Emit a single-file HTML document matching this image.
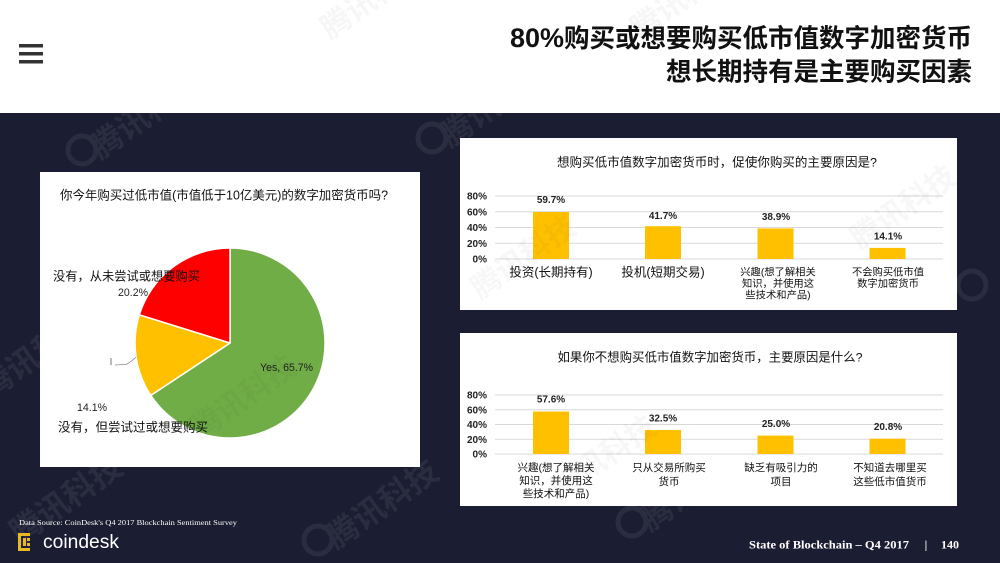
<!DOCTYPE html>
<html>
<head>
<meta charset="utf-8">
<style>
  html,body{margin:0;padding:0;background:#1b1d32;}
  body{width:1000px;height:563px;overflow:hidden;position:relative;}
  svg{display:block;}
  text{font-family:"Liberation Sans","Noto Sans CJK SC",sans-serif;}
</style>
</head>
<body>
<svg width="1000" height="563" viewBox="0 0 1000 563" xmlns="http://www.w3.org/2000/svg">
  <!-- backgrounds -->
  <rect x="0" y="0" width="1000" height="563" fill="#1b1d32"/>
  <rect x="0" y="0" width="1000" height="113" fill="#ffffff"/>

  <!-- header watermark (faint) -->
  <g fill="#000" opacity="0.03" font-size="30" font-weight="bold">
    <text x="330" y="40" transform="rotate(-35 330 40)">腾讯科技</text>
    <text x="640" y="40" transform="rotate(-35 640 40)">腾讯科技</text>
  </g>

  <!-- hamburger -->
  <rect x="19" y="44" width="24" height="3.5" fill="#333"/>
  <rect x="19" y="52" width="24" height="3.5" fill="#333"/>
  <rect x="19" y="60" width="24" height="3.5" fill="#333"/>

  <!-- title -->
  <text x="972" y="47" text-anchor="end" font-weight="bold" fill="#111"><tspan font-size="27">80%</tspan><tspan font-size="25.5">购买或想要购买低市值数字加密货币</tspan></text>
  <text x="972" y="80.5" text-anchor="end" font-weight="bold" fill="#111" font-size="25.5">想长期持有是主要购买因素</text>

  <!-- dark area watermarks -->
  <g fill="#ffffff" opacity="0.07" font-size="32" font-weight="bold">
    <circle cx="82" cy="150" r="14" fill="none" stroke="#fff" stroke-width="5"/>
    <text x="100" y="160" transform="rotate(-35 100 160)">腾讯科技</text>
    <circle cx="432" cy="138" r="14" fill="none" stroke="#fff" stroke-width="5"/>
    <text x="450" y="148" transform="rotate(-35 450 148)">腾讯科技</text>
    <circle cx="318" cy="540" r="14" fill="none" stroke="#fff" stroke-width="5"/>
    <text x="336" y="550" transform="rotate(-35 336 550)">腾讯科技</text>
    <circle cx="632" cy="522" r="14" fill="none" stroke="#fff" stroke-width="5"/>
    <text x="650" y="532" transform="rotate(-35 650 532)">腾讯</text>
    <text x="-10" y="400" transform="rotate(-35 -10 400)">腾讯科技</text>
    <text x="20" y="545" transform="rotate(-35 20 545)">腾讯科技</text>
    <circle cx="972" cy="285" r="14" fill="none" stroke="#fff" stroke-width="5"/>
  </g>

  <!-- LEFT PANEL: pie -->
  <rect x="40" y="172" width="380" height="295" fill="#ffffff"/>
  <text x="60" y="199.5" font-size="12.5" fill="#111" textLength="328" lengthAdjust="spacingAndGlyphs">你今年购买过低市值(市值低于10亿美元)的数字加密货币吗?</text>

  <g stroke="#ffffff" stroke-width="1.5" stroke-linejoin="round">
    <path d="M230,343 L230,248 A95,95 0 1 1 150.8,395.4 Z" fill="#70ad47"/>
    <path d="M230,343 L150.8,395.4 A95,95 0 0 1 139.3,314.8 Z" fill="#ffc000"/>
    <path d="M230,343 L139.3,314.8 A95,95 0 0 1 230,248 Z" fill="#ff0000"/>
  </g>

  <text x="53" y="280.5" font-size="12.3" fill="#111" textLength="147" lengthAdjust="spacingAndGlyphs">没有，从未尝试或想要购买</text>
  <text x="118" y="296" font-size="11" fill="#222" textLength="30" lengthAdjust="spacingAndGlyphs">20.2%</text>
  <text x="260" y="371" font-size="11" fill="#222" textLength="53" lengthAdjust="spacingAndGlyphs">Yes, 65.7%</text>
  <text x="77" y="411" font-size="11" fill="#222" textLength="30" lengthAdjust="spacingAndGlyphs">14.1%</text>
  <text x="58" y="431.5" font-size="12.3" fill="#111" textLength="150" lengthAdjust="spacingAndGlyphs">没有，但尝试过或想要购买</text>
  <!-- leader -->
  <line x1="111" y1="358" x2="111" y2="365" stroke="#555" stroke-width="0.8"/>
  <path d="M115,365 L126,364.5 Q131,362 136,357" fill="none" stroke="#888" stroke-width="0.8"/>

  <!-- TOP RIGHT PANEL -->
  <rect x="460" y="138" width="497" height="172" fill="#ffffff"/>
  <text x="717" y="166.5" font-size="12.3" fill="#111" text-anchor="middle" textLength="320" lengthAdjust="spacingAndGlyphs">想购买低市值数字加密货币时，促使你购买的主要原因是?</text>
  <g stroke="#d9d9d9" stroke-width="1">
    <line x1="495" y1="196" x2="943" y2="196"/>
    <line x1="495" y1="211.75" x2="943" y2="211.75"/>
    <line x1="495" y1="227.5" x2="943" y2="227.5"/>
    <line x1="495" y1="243.25" x2="943" y2="243.25"/>
    <line x1="495" y1="259" x2="943" y2="259"/>
  </g>
  <g font-size="10" font-weight="bold" fill="#222" text-anchor="end">
    <text x="487" y="199.5">80%</text>
    <text x="487" y="215.3">60%</text>
    <text x="487" y="231">40%</text>
    <text x="487" y="246.8">20%</text>
    <text x="487" y="262.5">0%</text>
  </g>
  <g fill="#ffc000">
    <rect x="533" y="212" width="36" height="47"/>
    <rect x="645" y="226.2" width="36" height="32.8"/>
    <rect x="757.5" y="228.4" width="36" height="30.6"/>
    <rect x="869.5" y="247.9" width="36" height="11.1"/>
  </g>
  <g font-size="10" font-weight="bold" fill="#222" text-anchor="middle">
    <text x="551" y="202.8">59.7%</text>
    <text x="663" y="218.8">41.7%</text>
    <text x="776" y="219.8">38.9%</text>
    <text x="888" y="239.3">14.1%</text>
  </g>
  <g fill="#111" text-anchor="middle">
    <text x="551" y="276.5" font-size="12.5">投资(长期持有)</text>
    <text x="663" y="276.5" font-size="12.5">投机(短期交易)</text>
    <text x="778" y="275.5" font-size="10.3">兴趣(想了解相关</text>
    <text x="778" y="287" font-size="10.3">知识，并使用这</text>
    <text x="778" y="298.5" font-size="10.3">些技术和产品)</text>
    <text x="888" y="275.5" font-size="10.3">不会购买低市值</text>
    <text x="888" y="287" font-size="10.3">数字加密货币</text>
  </g>

  <!-- BOTTOM RIGHT PANEL -->
  <rect x="460" y="333" width="497" height="173" fill="#ffffff"/>
  <text x="710" y="361.5" font-size="12.3" fill="#111" text-anchor="middle" textLength="305" lengthAdjust="spacingAndGlyphs">如果你不想购买低市值数字加密货币，主要原因是什么?</text>
  <g stroke="#d9d9d9" stroke-width="1">
    <line x1="495" y1="395" x2="943" y2="395"/>
    <line x1="495" y1="409.75" x2="943" y2="409.75"/>
    <line x1="495" y1="424.5" x2="943" y2="424.5"/>
    <line x1="495" y1="439.25" x2="943" y2="439.25"/>
    <line x1="495" y1="454" x2="943" y2="454"/>
  </g>
  <g font-size="10" font-weight="bold" fill="#222" text-anchor="end">
    <text x="487" y="398.5">80%</text>
    <text x="487" y="413.3">60%</text>
    <text x="487" y="428">40%</text>
    <text x="487" y="442.8">20%</text>
    <text x="487" y="457.5">0%</text>
  </g>
  <g fill="#ffc000">
    <rect x="533" y="411.5" width="36" height="42.5"/>
    <rect x="645" y="430" width="36" height="24"/>
    <rect x="757.5" y="435.6" width="36" height="18.4"/>
    <rect x="869.5" y="438.7" width="36" height="15.3"/>
  </g>
  <g font-size="10" font-weight="bold" fill="#222" text-anchor="middle">
    <text x="551" y="402.5">57.6%</text>
    <text x="663" y="421.5">32.5%</text>
    <text x="776" y="427">25.0%</text>
    <text x="888" y="430">20.8%</text>
  </g>
  <g fill="#111" text-anchor="middle" font-size="10.5">
    <text x="556" y="471">兴趣(想了解相关</text>
    <text x="556" y="484">知识，并使用这</text>
    <text x="556" y="497">些技术和产品)</text>
    <text x="669" y="471">只从交易所购买</text>
    <text x="669" y="485">货币</text>
    <text x="781" y="471">缺乏有吸引力的</text>
    <text x="781" y="485">项目</text>
    <text x="890" y="471">不知道去哪里买</text>
    <text x="890" y="485">这些低市值货币</text>
  </g>

  <!-- panel-area watermarks (faint) -->
  <g fill="#000" opacity="0.035" font-size="30" font-weight="bold">
    <text x="480" y="300" transform="rotate(-35 480 300)">腾讯科技</text>
    <text x="860" y="250" transform="rotate(-35 860 250)">腾讯科技</text>
    <text x="560" y="500" transform="rotate(-35 560 500)">腾讯科技</text>
    <text x="200" y="440" transform="rotate(-35 200 440)">腾讯科技</text>
  </g>

  <!-- FOOTER -->
  <text x="19" y="525" font-size="7.6" fill="#ffffff" textLength="218" lengthAdjust="spacingAndGlyphs" style="font-family:'Liberation Serif',serif">Data Source: CoinDesk's Q4 2017 Blockchain Sentiment Survey</text>
  <g fill="#e8b923">
    <rect x="18" y="533" width="12" height="3"/>
    <rect x="18" y="533" width="3" height="18"/>
    <rect x="18" y="548" width="12" height="3"/>
    <rect x="23" y="538" width="3" height="8"/>
    <rect x="27" y="538" width="3" height="3"/>
    <rect x="27" y="543" width="3" height="3"/>
  </g>
  <text x="43" y="548" font-size="19" fill="#ffffff" textLength="76" lengthAdjust="spacingAndGlyphs">coindesk</text>
  <text x="749" y="548.5" font-size="12" font-weight="bold" fill="#ffffff" textLength="160" lengthAdjust="spacingAndGlyphs" style="font-family:'Liberation Serif',serif">State of Blockchain – Q4 2017</text>
  <text x="926" y="548.5" font-size="12" font-weight="bold" fill="#ffffff" text-anchor="middle" style="font-family:'Liberation Serif',serif">|</text>
  <text x="941" y="548.5" font-size="12" font-weight="bold" fill="#ffffff" textLength="18" lengthAdjust="spacingAndGlyphs" style="font-family:'Liberation Serif',serif">140</text>
</svg>
</body>
</html>
